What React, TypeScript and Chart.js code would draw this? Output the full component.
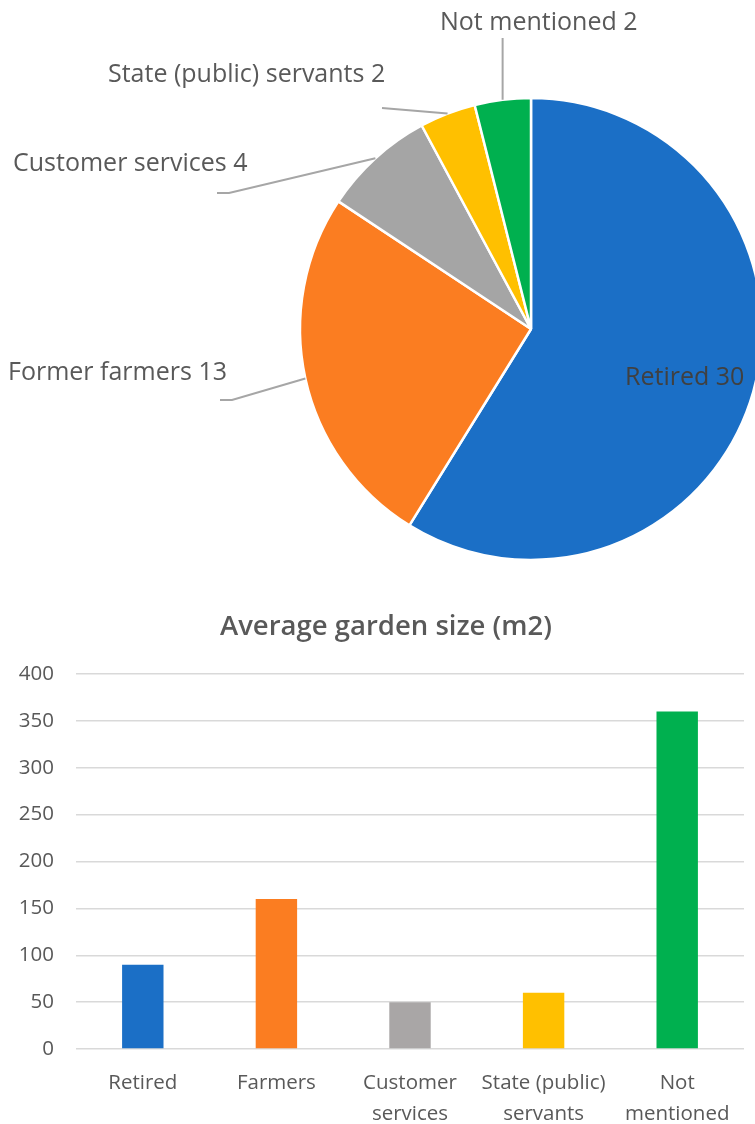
import React, { useEffect, useRef } from "react";
import { Chart, registerables } from "chart.js";

Chart.register(...registerables);

// ---- data ----
const pieCategories = ["Retired", "Former farmers", "Customer services", "State (public) servants", "Not mentioned"];
const pieValues = [30, 13, 4, 2, 2];
const sliceColors = ["#1b6fc6", "#fb7d21", "#a5a5a5", "#ffc000", "#00b04f"];

const barCategories = [["Retired"], ["Farmers"], ["Customer", "services"], ["State (public)", "servants"], ["Not", "mentioned"]];
const barValues = [90, 160, 50, 60, 360];
const barColors = ["#1b6fc6", "#fb7d21", "#a9a6a6", "#ffc000", "#00b04f"];
const yTickValues = [0, 50, 100, 150, 200, 250, 300, 350, 400];
const barTitle = "Average garden size (m2)";

const FONT = "'Open Sans', 'DejaVu Sans', sans-serif";
const TEXT = "#595959";

// label placement for the pie (annotation layout)
const piePlacements = [
  { x: 625, y: 385, color: "#404040" },
  { x: 8, y: 380, line: [220, 400], elbow: 12 },
  { x: 13, y: 171, line: [217, 193], elbow: 12 },
  { x: 108, y: 82, line: [382, 108], elbow: 0 },
  { x: 440, y: 30, line: [503, 38], elbow: 0, vertical: true },
];

const pieLabelPlugin = {
  id: "pieLabels",
  afterDatasetsDraw(chart: any, _args: any, opts: any) {
    const ctx = chart.ctx;
    const meta = chart.getDatasetMeta(0);
    const labels = chart.data.labels;
    const values = chart.data.datasets[0].data;
    ctx.save();
    ctx.font = `${opts.fontSize}px ${FONT}`;
    meta.data.forEach((arc: any, i: number) => {
      const p = opts.placements[i];
      const { x, y, startAngle, endAngle, outerRadius } = arc.getProps(
        ["x", "y", "startAngle", "endAngle", "outerRadius"],
        true
      );
      const mid = (startAngle + endAngle) / 2;
      const ex = x + Math.cos(mid) * outerRadius;
      const ey = y + Math.sin(mid) * outerRadius;
      if (p.line) {
        ctx.strokeStyle = opts.lineColor;
        ctx.lineWidth = opts.lineWidth;
        ctx.beginPath();
        if (p.vertical) {
          ctx.moveTo(ex, p.line[1]);
        } else {
          ctx.moveTo(p.line[0], p.line[1]);
          if (p.elbow) ctx.lineTo(p.line[0] + p.elbow, p.line[1]);
        }
        ctx.lineTo(ex, ey);
        ctx.stroke();
      }
      ctx.fillStyle = p.color || opts.color;
      ctx.textAlign = "left";
      ctx.textBaseline = "alphabetic";
      ctx.fillText(`${labels[i]} ${values[i]}`, p.x, p.y);
    });
    ctx.restore();
  },
};

function PieChart() {
  const ref = useRef<HTMLCanvasElement>(null);
  useEffect(() => {
    const chart = new Chart(ref.current as HTMLCanvasElement, {
      type: "pie",
      data: {
        labels: pieCategories,
        datasets: [
          {
            data: pieValues,
            backgroundColor: sliceColors,
            borderColor: "#ffffff",
            borderWidth: 2.5,
            radius: 231,
          } as any,
        ],
      },
      options: {
        responsive: false,
        animation: false,
        layout: { padding: { top: 58, bottom: 0, left: 0, right: 0 } },
        plugins: {
          legend: { display: false },
          tooltip: { enabled: false },
          pieLabels: {
            placements: piePlacements,
            fontSize: 25,
            color: TEXT,
            lineColor: "#a6a6a6",
            lineWidth: 2,
          },
        } as any,
      },
      plugins: [pieLabelPlugin],
    });
    return () => chart.destroy();
  }, []);
  return (
    <div style={{ position: "absolute", left: 0, top: 0, width: 755, height: 600, overflow: "hidden" }}>
      <canvas ref={ref} width={1062} height={600} style={{ display: "block" }} />
    </div>
  );
}

function BarChart() {
  const ref = useRef<HTMLCanvasElement>(null);
  useEffect(() => {
    const chart = new Chart(ref.current as HTMLCanvasElement, {
      type: "bar",
      data: {
        labels: barCategories,
        datasets: [
          {
            data: barValues,
            backgroundColor: barColors,
            borderWidth: 0,
            categoryPercentage: 1,
            barPercentage: 0.31,
          },
        ],
      },
      options: {
        responsive: false,
        animation: false,
        layout: { padding: { top: 0, bottom: 0, left: 0, right: 0 } },
        plugins: {
          legend: { display: false },
          tooltip: { enabled: false },
          title: {
            display: true,
            text: barTitle,
            color: TEXT,
            font: { family: FONT, size: 27.5, weight: "600", lineHeight: 1.2 },
            padding: { top: 11, bottom: 30 },
          },
        },
        scales: {
          x: {
            grid: { display: false },
            border: { display: false },
            ticks: {
              color: TEXT,
              font: { family: FONT, size: 20.5, lineHeight: 1.5 },
              padding: 11,
              maxRotation: 0,
              autoSkip: false,
            },
            afterFit: (scale: any) => {
              scale.height = 75;
            },
          },
          y: {
            min: 0,
            max: 400,
            afterBuildTicks: (scale: any) => {
              scale.ticks = yTickValues.map((v) => ({ value: v }));
            },
            grid: { color: "#d9d9d9", lineWidth: 1.5, drawTicks: false },
            border: { display: false },
            ticks: {
              color: TEXT,
              font: { family: FONT, size: 20.5 },
              padding: 22,
            },
            afterFit: (scale: any) => {
              scale.width = 76;
            },
          },
          yRightSpace: {
            type: "linear",
            position: "right",
            display: true,
            grid: { display: false, drawTicks: false },
            border: { display: false },
            ticks: { display: false },
            afterFit: (scale: any) => {
              scale.width = 28;
            },
          },
        } as any,
      },
    });
    return () => chart.destroy();
  }, []);
  return (
    <div style={{ position: "absolute", left: 0, top: 600, width: 755, height: 524, overflow: "hidden" }}>
      <canvas ref={ref} width={772} height={524} style={{ display: "block" }} />
    </div>
  );
}

export default function App() {
  return (
    <div style={{ position: "relative", width: 755, height: 1124 }}>
      <div style={{ position: "fixed", left: 0, top: 0, width: 755, height: 1124, background: "#ffffff", overflow: "hidden" }}>
        <PieChart />
        <BarChart />
      </div>
    </div>
  );
}
